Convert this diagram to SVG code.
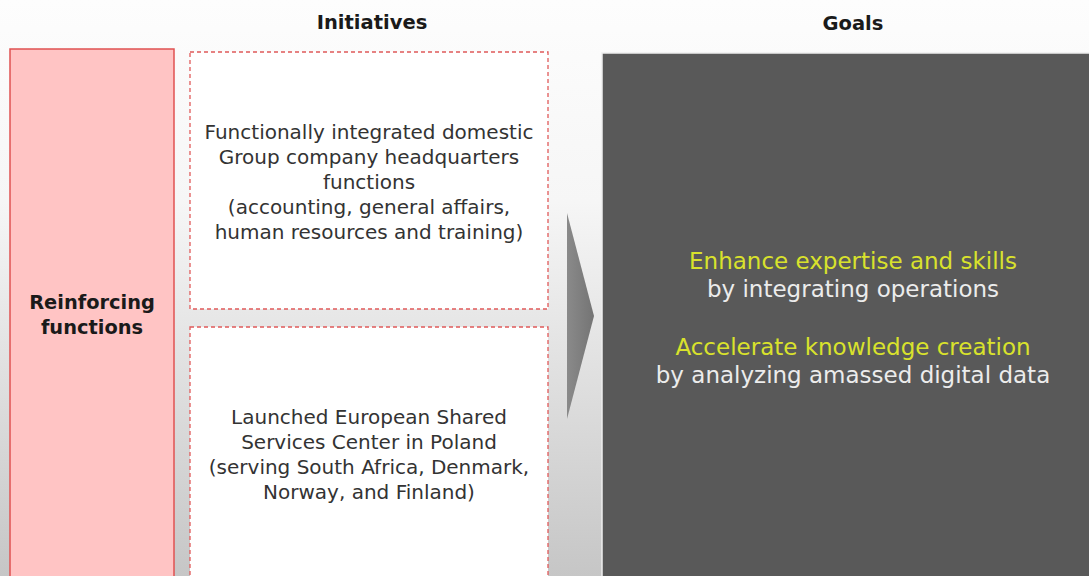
<svg xmlns="http://www.w3.org/2000/svg" width="1089" height="576" viewBox="0 0 1089 576">
  <defs>
    <linearGradient id="bg" x1="0" y1="0" x2="0" y2="1">
      <stop offset="0" stop-color="#fdfdfd"/>
      <stop offset="0.35" stop-color="#f6f6f6"/>
      <stop offset="1" stop-color="#c6c6c6"/>
    </linearGradient>
    <linearGradient id="arrowFill" x1="0" y1="0" x2="1" y2="0">
      <stop offset="0" stop-color="#8a8a8a"/>
      <stop offset="1" stop-color="#747474"/>
    </linearGradient>
  </defs>
  <style>
    .head { font-family: "DejaVu Sans", sans-serif; font-weight: bold; font-size: 19.5px; fill: #1a1a1a; text-anchor: middle; }
    .side { font-family: "DejaVu Sans", sans-serif; font-weight: bold; font-size: 19.4px; fill: #1a1a1a; text-anchor: middle; }
    .body { font-family: "DejaVu Sans", sans-serif; font-size: 20px; fill: #333333; text-anchor: middle; }
    .goal { font-family: "DejaVu Sans", sans-serif; font-size: 23px; text-anchor: middle; }
    .hl { fill: #d9e22c; }
    .sub { fill: #ececec; }
    .dash { fill: #ffffff; stroke: #e05a5a; stroke-width: 1.3; stroke-dasharray: 4 3; }
  </style>

  <!-- background -->
  <rect x="0" y="0" width="1089" height="576" fill="url(#bg)"/>

  <!-- column headings -->
  <text class="head" x="372" y="29">Initiatives</text>
  <text class="head" x="853" y="30">Goals</text>

  <!-- left category bar -->
  <g id="reinforcing">
    <rect x="10" y="49" width="164" height="540" fill="#ffc4c4" stroke="#e05252" stroke-width="1.5"/>
    <text class="side" x="92" y="309">Reinforcing</text>
    <text class="side" x="92" y="334">functions</text>
  </g>

  <!-- initiative boxes -->
  <g id="initiative-hq">
    <rect class="dash" x="190" y="52" width="358" height="257"/>
    <text class="body" x="369" y="139">Functionally integrated domestic</text>
    <text class="body" x="369" y="164">Group company headquarters</text>
    <text class="body" x="369" y="189">functions</text>
    <text class="body" x="369" y="214">(accounting, general affairs,</text>
    <text class="body" x="369" y="239">human resources and training)</text>
  </g>

  <g id="initiative-ssc">
    <rect class="dash" x="190" y="327" width="358" height="270"/>
    <text class="body" x="369" y="424">Launched European Shared</text>
    <text class="body" x="369" y="449">Services Center in Poland</text>
    <text class="body" x="369" y="474">(serving South Africa, Denmark,</text>
    <text class="body" x="369" y="499">Norway, and Finland)</text>
  </g>

  <!-- flow arrow -->
  <g id="connectors">
    <polygon points="567,213 594,316 567,419" fill="url(#arrowFill)"/>
  </g>

  <!-- goals panel -->
  <g id="goals">
    <rect x="602" y="53" width="500" height="540" fill="#595959" stroke="#eeeeee" stroke-width="1.5"/>
    <text class="goal hl" x="853" y="269">Enhance expertise and skills</text>
    <text class="goal sub" x="853" y="297">by integrating operations</text>
    <text class="goal hl" x="853" y="355">Accelerate knowledge creation</text>
    <text class="goal sub" x="853" y="383">by analyzing amassed digital data</text>
  </g>
</svg>
